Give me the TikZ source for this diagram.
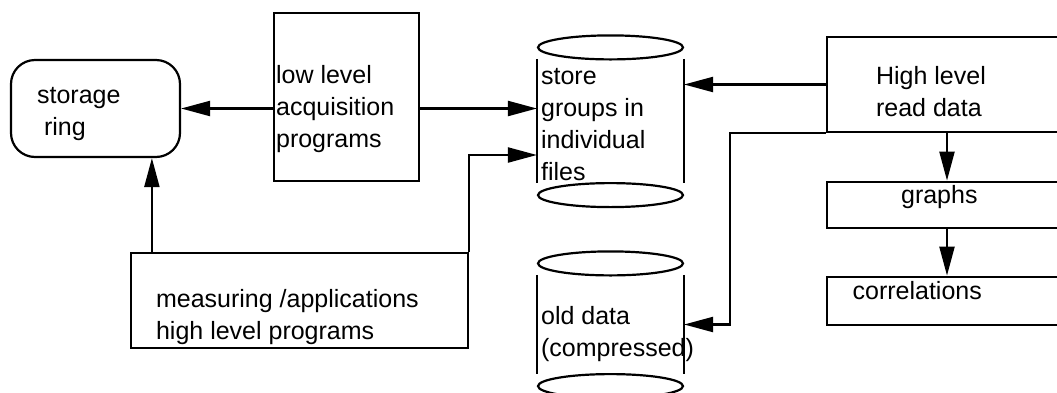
\documentclass[tikz,border=0pt]{standalone}
\usepackage{fontspec}
\setmainfont{Liberation Sans}
\usetikzlibrary{arrows.meta}

\begin{document}
\begin{tikzpicture}[x=0.5pt,y=-0.5pt,line width=1.1pt,
  >={Triangle[length=14.5pt,width=7.5pt]},
  box/.style={draw,rectangle,inner sep=0pt},
  slab/.style={rectangle,inner sep=0pt,minimum width=72.5pt},
  txt/.style={anchor=north west,inner sep=0pt,align=left,font=\fontsize{12.5}{16}\selectfont}]
\clip (0,0) rectangle (1057,392);
% boxes
\node[box,rounded corners=12pt,minimum width=84.5pt,minimum height=48.5pt] (ring) at (95.5,108.5) {};
\node[box,minimum width=72.5pt,minimum height=84.15pt] (lowlvl) at (346.5,96.9) {};
\node[box,minimum width=168.5pt,minimum height=47.65pt] (measure) at (299.2,300.35) {};
\node[box,minimum width=120.3pt,minimum height=47.2pt] (highlvl) at (947,84.5) {};
\node[box,minimum width=120.3pt,minimum height=23.3pt] (graphs) at (947,205) {};
\node[box,minimum width=120.3pt,minimum height=24.15pt] (corr) at (947,300.85) {};
% data cylinders
\node[slab,minimum height=61pt] (store) at (610.5,121) {};
\node[slab,minimum height=48.5pt] (old) at (610.5,324.5) {};
\foreach \c in {store,old} {
  \draw (\c.north west) -- (\c.south west) (\c.north east) -- (\c.south east);
  \draw ([yshift=5.75pt]\c.north) ellipse [x radius=36.25pt,y radius=6pt];
  \draw ([yshift=-6pt]\c.south) ellipse [x radius=36.25pt,y radius=6pt];
}
% texts
\node[txt] (ringtxt) at (36,79.6) {\strut storage\\\ ring};
\node[txt] (lowtxt) at (275,60.3) {\strut low level\\acquisition\\programs};
\node[txt] (meastxt) at (155,283.6) {\strut measuring /applications\\high level programs};
\node[txt] (storetxt) at (540,60.6) {\strut store\\groups in\\individual\\files};
\node[txt] (oldtxt) at (540,300.6) {\strut old data\\(compressed)};
\node[txt] (hightxt) at (875,60.9) {\strut High level\\read data};
\node[txt] (graphtxt) at (900,180.3) {\strut graphs};
\node[txt] (corrtxt) at (851.5,275.6) {\strut correlations};
% connectors
\coordinate (mup) at ([xshift=11.15pt]measure.north west);
\draw[->] (lowlvl.west |- ring.east) -- (ring.east);
\draw[->] (lowlvl.east |- ring.east) -- (store.west |- ring.east);
\draw[->] (mup) -- (mup |- ring.south);
\draw[->] (measure.north east) |- ([yshift=-17pt]store.west);
\draw[->] (highlvl.west) -- (store.east |- highlvl.west);
\draw[->] (highlvl.south west) -- ++(-96,0) |- (old.east);
\draw[->] (highlvl.south) -- (graphs.north);
\draw[->] (graphs.south) -- (corr.north);
\end{tikzpicture}
\end{document}
